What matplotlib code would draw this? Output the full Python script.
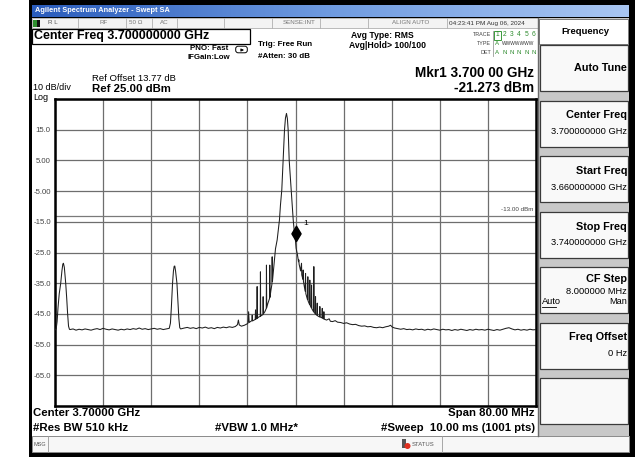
import numpy as np
import matplotlib
matplotlib.use('Agg')
import matplotlib.pyplot as plt
from matplotlib.patches import Rectangle, FancyBboxPatch, Circle
from matplotlib.colors import LinearSegmentedColormap
from matplotlib.markers import MarkerStyle
from matplotlib.path import Path

plt.rcParams['font.family'] = ['Liberation Sans', 'DejaVu Sans']

# ---- sweep settings ----
start_ghz = 3.66
stop_ghz = 3.74
ref_level = 25.0
db_per_div = 10.0
display_line = -13.0
marker_ghz = 3.700
marker_dbm = -21.273

y_ticks = [25, 15, 5, -5, -15, -25, -35, -45, -55, -65, -75]
y_tick_labels = ['', '15.0', '5.00', '-5.00', '-15.0', '-25.0', '-35.0', '-45.0', '-55.0', '-65.0', '']

spur_a = [(0.0, -50.2), (0.2, -49.8), (0.35, -47.5), (0.5, -43.0), (0.7, -38.5), (0.95, -35.0),
          (1.15, -31.0), (1.3, -28.8), (1.4, -28.5), (1.55, -29.8), (1.78, -35.0), (1.95, -40.0),
          (2.1, -45.0), (2.25, -49.0), (2.4, -50.0)]
floor_a = [(2.5, -50.1), (3.0, -49.9), (3.5, -50.3), (4.0, -50.0), (4.5, -50.2), (5.0, -49.9),
           (5.5, -50.1), (6.0, -50.3), (6.5, -50.0), (7.0, -49.8), (7.5, -50.1), (8.0, -49.7),
           (8.5, -50.0), (9.0, -50.2), (9.5, -49.9), (10.0, -50.1), (10.5, -50.3), (11.0, -50.0),
           (11.5, -50.2), (12.0, -49.9), (12.5, -50.1), (13.0, -49.8), (13.5, -50.0), (14.0, -49.6),
           (14.5, -50.0), (15.0, -49.8), (15.5, -50.1), (16.0, -49.9), (16.5, -49.7), (17.0, -50.0),
           (17.5, -49.8), (18.0, -50.1), (18.5, -49.9), (19.0, -49.7)]
spur_b = [(19.2, -48.0), (19.35, -43.0), (19.55, -35.0), (19.7, -31.0), (19.82, -29.5), (19.92, -29.4),
          (20.05, -31.0), (20.28, -35.0), (20.45, -41.0), (20.6, -46.5), (20.75, -49.5), (20.9, -49.9)]
floor_b = [(21.5, -49.6), (22.0, -49.4), (22.5, -49.7), (23.0, -49.5), (23.5, -49.8), (24.0, -49.4),
           (24.5, -49.6), (25.0, -49.3), (25.5, -49.7), (26.0, -49.5), (26.5, -49.8), (27.0, -49.4),
           (27.5, -49.6), (28.0, -49.3), (28.5, -49.5), (29.0, -49.2), (29.5, -49.4), (30.0, -49.1),
           (30.35, -48.5), (30.5, -47.0), (30.65, -48.6), (31.0, -49.0), (31.5, -48.7), (32.0, -48.2)]
carrier_left = [(32.1, -48.0), (32.2, -44.3), (32.3, -47.8), (32.5, -47.5), (32.75, -47.2), (32.8, -45.4),
                (32.85, -47.3), (33.1, -47.0), (33.3, -46.8), (33.35, -43.7), (33.4, -46.7), (33.58, -46.5),
                (33.62, -36.1), (33.66, -46.4), (33.9, -46.0), (34.14, -45.8), (34.17, -31.3), (34.21, -45.7),
                (34.45, -45.4), (34.6, -45.2), (34.62, -39.4), (34.65, -45.0), (34.9, -44.3), (35.14, -43.2),
                (35.17, -29.1), (35.21, -43.0), (35.4, -41.6), (35.68, -40.0), (35.72, -29.1), (35.76, -39.6),
                (35.9, -37.5), (36.08, -35.3), (36.12, -26.4), (36.16, -34.5), (36.33, -31.0), (36.5, -27.5),
                (36.67, -23.8)]
carrier = [(36.95, -20.9), (37.15, -17.5), (37.33, -14.4), (37.5, -9.5), (37.72, -4.6), (37.95, 5.1),
           (38.17, 14.9), (38.33, 18.8), (38.5, 20.3), (38.65, 18.6), (38.78, 14.9), (38.95, 5.1),
           (39.12, 0.2), (39.28, -4.6), (39.45, -9.8), (39.62, -14.4), (39.8, -18.2), (40.0, -21.27)]
carrier_right = [(40.1, -23.6), (40.33, -25.8), (40.5, -28.0), (40.55, -27.4), (40.6, -28.8), (40.85, -31.0),
                 (41.0, -28.5), (41.04, -32.3), (41.24, -33.8), (41.28, -30.7), (41.32, -34.4), (41.6, -37.6),
                 (41.67, -31.8), (41.72, -38.4), (42.0, -40.4), (42.05, -32.9), (42.1, -40.8), (42.33, -41.9),
                 (42.38, -34.0), (42.43, -42.2), (42.62, -43.0), (42.67, -35.6), (42.72, -43.3), (43.0, -44.3),
                 (43.05, -29.6), (43.1, -44.5), (43.3, -45.0), (43.33, -39.4), (43.37, -45.1), (43.58, -45.5),
                 (43.62, -41.5), (43.66, -45.6), (44.0, -46.0), (44.05, -42.6), (44.1, -46.0), (44.4, -46.3),
                 (44.45, -43.2), (44.5, -46.4), (44.68, -46.6), (44.72, -44.3), (44.76, -46.7), (45.17, -47.0),
                 (45.6, -46.6), (45.8, -47.4), (46.17, -47.5), (46.6, -47.2), (47.0, -47.7), (47.5, -47.8)]
floor_c = [(48.0, -48.1), (48.5, -47.9), (49.0, -48.3), (49.5, -48.5), (50.0, -48.4), (50.5, -48.8),
           (51.0, -49.0), (51.5, -48.9), (52.0, -49.2), (52.5, -49.1), (53.0, -49.4), (53.5, -49.5),
           (54.0, -49.3), (54.5, -49.5), (55.0, -49.2), (55.5, -49.0), (55.8, -48.7), (56.1, -49.3),
           (56.5, -49.6), (57.0, -49.8), (57.5, -50.0), (58.0, -49.8), (58.5, -50.1), (59.0, -50.0),
           (59.5, -50.2), (60.0, -49.9), (60.5, -50.1), (61.0, -50.0), (61.5, -50.3), (62.0, -50.0),
           (62.5, -50.2), (63.0, -49.9), (63.5, -50.1), (64.0, -50.3), (64.5, -50.0), (65.0, -50.2),
           (65.5, -50.1), (66.0, -50.4), (66.5, -50.1), (67.0, -50.3), (67.5, -50.0), (68.0, -50.2),
           (68.5, -50.4), (69.0, -50.1), (69.5, -50.3), (70.0, -50.0), (70.5, -50.2), (71.0, -50.1),
           (71.5, -50.3), (72.0, -50.0), (72.5, -50.2), (73.0, -50.4), (73.5, -50.1), (74.0, -50.3),
           (74.5, -50.0), (75.0, -49.7), (75.5, -49.5), (76.0, -49.9), (76.5, -50.2), (77.0, -50.0),
           (77.5, -50.3), (78.0, -50.1), (78.5, -50.3), (79.0, -50.0), (79.5, -50.2), (80.0, -50.1)]

# softkeys (title, value)
softkeys = [('Auto Tune', ''), ('Center Freq', '3.700000000 GHz'), ('Start Freq', '3.660000000 GHz'),
            ('Stop Freq', '3.740000000 GHz'), ('CF Step', '8.000000 MHz'), ('Freq Offset', '0 Hz'), ('', '')]

trace_nums = ['1', '2', '3', '4', '5', '6']
trace_det = ['A', 'N', 'N', 'N', 'N', 'N']


W, H = 635, 457
fig = plt.figure(figsize=(W / 100, H / 100), dpi=100, facecolor='white')
ov = fig.add_axes([0, 0, 1, 1])
ov.set_axis_off()


def box(x, y, w, h, fc, ec='none', lw=0.8, z=1):
	ov.add_patch(Rectangle((x, y), w, h, facecolor=fc, edgecolor=ec, lw=lw, zorder=z))


def txt(x, y, s, size, ha='left', bold=False, color='black', **kw):
	ov.text(x, y, s, fontsize=size, ha=ha, va='center', color=color,
		fontweight='bold' if bold else 'normal', **kw)


# frame of the instrument window
box(29, 0, 606, 457, 'black')
box(32, 18, 597, 434, 'white')

# title bar
grad = LinearSegmentedColormap.from_list('tb', ['#2a5cbc', '#6f9be0', '#a9c6f2'])
ov.imshow(np.linspace(0, 1, 256)[None, :], extent=(32, 629, 17, 5), cmap=grad, aspect='auto', zorder=2)
txt(35, 11, 'Agilent Spectrum Analyzer - Swept SA', 5.3, bold=True, color='white', zorder=3)

# status row
box(32, 18, 506, 10, '#f3f3f3', '#b0b0b0', 0.6)
for xs in [78, 126, 152, 177, 224, 272, 320, 368, 447]:
	ov.plot([xs, xs], [18, 28], color='#b0b0b0', lw=0.6, zorder=2)
box(33, 19.5, 4, 7, '#2f8f2f', z=3)
box(37, 19.5, 3, 7, '#111111', z=3)
txt(48, 23, 'R L', 4.5, color='#555555')
txt(100, 23, 'RF', 4.5, color='#777777')
txt(129, 23, '50 Ω', 4.5, color='#777777')
txt(160, 23, 'AC', 4.5, color='#777777')
txt(283, 23, 'SENSE:INT', 4.5, color='#777777')
txt(392, 23, 'ALIGN AUTO', 4.5, color='#777777')
txt(449, 23, '04:23:41 PM Aug 06, 2024', 4.6, color='#333333')

# center freq box
box(31.5, 28.5, 218, 15, 'white', 'black', 0.9, z=2)
txt(34, 36, 'Center Freq 3.700000000 GHz', 9.0, bold=True)

txt(228, 48.5, 'PNO: Fast', 5.7, ha='right', bold=True)
txt(230, 57.5, 'IFGain:Low', 5.7, ha='right', bold=True)
ov.add_patch(FancyBboxPatch((236, 46.5), 11, 6, boxstyle='round,pad=0.3,rounding_size=2.5',
	facecolor='white', edgecolor='black', lw=0.7, zorder=3))
ov.annotate('', xy=(244, 50), xytext=(239, 50), zorder=4,
	arrowprops=dict(arrowstyle='-|>', lw=0.6, color='black', mutation_scale=4))
txt(258, 44, 'Trig: Free Run', 5.8, bold=True)
txt(258, 56, '#Atten: 30 dB', 5.8, bold=True)

txt(351, 35, 'Avg Type: RMS', 6.2, bold=True)
txt(349, 46, 'Avg|Hold> 100/100', 6.2, bold=True)

# trace info block
txt(491, 35, 'TRACE', 3.9, ha='right', color='#444444')
txt(491, 43.5, 'TYPE', 3.9, ha='right', color='#444444')
txt(491, 52, 'DET', 3.9, ha='right', color='#444444')
ov.plot([493, 493], [31, 56], color='#9a9a9a', lw=0.6)
box(494, 30.5, 6.5, 9, 'white', '#3a9a3a', 0.7, z=3)
for i, (num, det) in enumerate(zip(trace_nums, trace_det)):
	cx = 497.3 + i * 7.3
	txt(cx, 35, num, 4.8, ha='center', color='#2e8b2e', zorder=4)
	txt(cx, 52, det, 4.4, ha='center', color='#2e8b2e')
txt(497.3, 43.5, 'A', 4.4, ha='center', color='#2e8b2e')
txt(502, 43.5, 'WWWWWWW', 3.5, color='#333333')

txt(92, 78.5, 'Ref Offset 13.77 dB', 6.8)
txt(33, 88, '10 dB/div', 6.5)
txt(92, 89, 'Ref 25.00 dBm', 8.2, bold=True)
txt(33, 98, 'Log', 6.5)

txt(534, 73, 'Mkr1 3.700 00 GHz', 9.8, ha='right', bold=True)
txt(534, 88, '-21.273 dBm', 9.8, ha='right', bold=True)

# bottom annotations
txt(33, 413, 'Center 3.70000 GHz', 8.2, bold=True)
txt(535, 413, 'Span 80.00 MHz', 8.2, ha='right', bold=True)
txt(33, 428, '#Res BW 510 kHz', 8.2, bold=True)
txt(215, 428, '#VBW 1.0 MHz*', 8.2, bold=True)
txt(535, 428, '#Sweep  10.00 ms (1001 pts)', 8.2, ha='right', bold=True)

# message bar
box(32, 436, 597, 16, '#f7f7f7', '#8a8a8a', 0.7)
ov.plot([48, 48], [436, 452], color='#9a9a9a', lw=0.6)
ov.plot([442, 442], [436, 452], color='#9a9a9a', lw=0.6)
txt(34, 444, 'MSG', 4.0, color='#555555')
box(401.5, 439, 4, 9, '#555555', z=3)
ov.add_patch(Circle((407.5, 446), 3, facecolor='#e03020', edgecolor='none', zorder=4))
txt(412, 444, 'STATUS', 4.2, color='#555555')

# softkey panel
box(538, 18, 91, 418, '#c8c8c8')
ov.plot([538, 538], [18, 436], color='#6a6a6a', lw=1.0)
box(539, 19, 89, 25, 'white', '#7a7a7a', 0.7)
txt(585, 32, 'Frequency', 6.8, ha='center', bold=True)
key_tops = [45, 100.5, 156, 211.5, 267, 322.5, 378]
for (title, value), top in zip(softkeys, key_tops):
	box(540, top, 88, 46, '#f9f9f9', '#3a3a3a', 0.9, z=2)
	if title == 'CF Step':
		txt(627, top + 12, title, 7.8, ha='right', bold=True)
		txt(627, top + 24, value, 6.7, ha='right')
		txt(542, top + 35, 'Auto', 6.7)
		ov.plot([542, 556], [top + 40, top + 40], color='black', lw=0.6, zorder=3)
		txt(627, top + 35, 'Man', 6.7, ha='right')
	elif value:
		txt(627, top + 15, title, 7.8, ha='right', bold=True)
		txt(627, top + 31, value, 6.7, ha='right')
	elif title:
		txt(627, top + 23, title, 7.8, ha='right', bold=True)

ov.set_xlim(0, W)
ov.set_ylim(H, 0)

# ---- graticule + trace ----
x0, x1, y_top, y_bot = 55, 536, 99, 406
ax = fig.add_axes([x0 / W, 1 - y_bot / H, (x1 - x0) / W, (y_bot - y_top) / H])
ax.set_facecolor('white')
ax.set_xlim(start_ghz, stop_ghz)
ax.set_ylim(ref_level - 10 * db_per_div, ref_level)
ax.set_xticks(np.linspace(start_ghz, stop_ghz, 11))
ax.set_xticklabels([])
ax.set_yticks(y_ticks)
ax.set_yticklabels(y_tick_labels)
ax.tick_params(length=0, pad=3, labelsize=5.6, labelcolor='#444444')
ax.grid(True, color='#6e6e6e', lw=0.9)
for sp in ax.spines.values():
	sp.set_color('black')
	sp.set_linewidth(1.8)

ax.axhline(display_line, color='#7a7a7a', lw=0.9)
ax.text(0.995, display_line + 1.2, '-13.00 dBm', transform=ax.get_yaxis_transform(),
	ha='right', va='bottom', fontsize=4.5, color='#444444')

pts = spur_a + floor_a + spur_b + floor_b + carrier_left + carrier + carrier_right + floor_c
f_mhz = np.array([p[0] for p in pts])
lvl = np.array([p[1] for p in pts])
ax.plot(start_ghz + f_mhz / 1000.0, lvl, color='#1e1e1e', lw=0.75, zorder=3)

# marker 1 (diamond sits on the trace)
diamond = Path([(0, 0), (0.3, 0.5), (0, 1), (-0.3, 0.5), (0, 0)], closed=True)
ax.plot([marker_ghz], [marker_dbm], marker=MarkerStyle(diamond), markersize=22,
	color='black', lw=0, zorder=4)
ax.annotate('1', (marker_ghz, marker_dbm), xytext=(6, 10), textcoords='offset points',
	fontsize=6, ha='left', va='bottom')

fig.savefig('out.png', dpi=100, facecolor='white')
